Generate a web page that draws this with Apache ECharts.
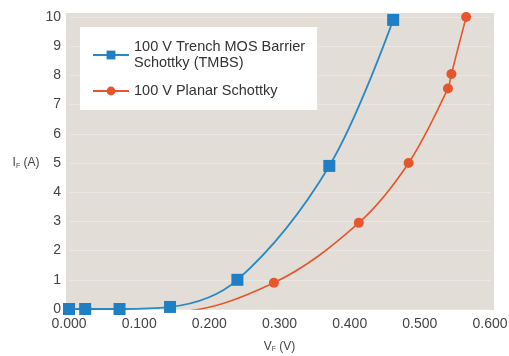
<!DOCTYPE html>
<html><head><meta charset="utf-8">
<script src="https://cdn.jsdelivr.net/npm/echarts@6/dist/echarts.min.js"></script>
<style>html,body{margin:0;padding:0;background:#fff}#c{width:509px;height:356px}</style>
</head><body><div id="c"></div>
<script>
var tmbsName = '100 V Trench MOS Barrier\nSchottky (TMBS)';
var planarName = '100 V Planar Schottky';
var tmbsV = [0.000, 0.023, 0.072, 0.144, 0.240, 0.371, 0.462];
var tmbsI = [0, 0, 0, 0.07, 1.0, 4.9, 9.9];
var planarV = [0.025, 0.084, 0.146, 0.292, 0.413, 0.484, 0.540, 0.545, 0.566];
var planarI = [0, -0.05, -0.1, 0.9, 2.95, 5.0, 7.55, 8.05, 10.0];

function pairs(xs, ys){ return xs.map(function(x,i){ return [x, ys[i]]; }); }

var chart = echarts.init(document.getElementById('c'));
chart.setOption({
  animation: false,
  textStyle: {fontFamily: 'Liberation Sans, Arial, sans-serif'},
  graphic: [{type: 'rect', left: 66, top: 13, shape: {width: 428, height: 297}, style: {fill: '#e2ded7'}, z: -10}],
  grid: {left: 69, right: 19, top: 17, bottom: 47, show: false, containLabel: false, outerBoundsMode: 'none'},
  legend: {
    orient: 'vertical', left: 80, top: 27, backgroundColor: '#ffffff',
    padding: [12, 12, 11, 12], itemGap: 12, itemWidth: 36, itemHeight: 11,
    textStyle: {fontSize: 14.5, color: '#333', lineHeight: 16},
    data: [tmbsName, planarName]
  },
  xAxis: {
    type: 'value', min: 0, max: 0.6, interval: 0.1,
    axisLine: {show: false}, axisTick: {show: false}, splitLine: {show: false},
    axisLabel: {margin: 8, fontSize: 14, color: '#444', formatter: function(v){ return v.toFixed(3); }},
    name: 'V{s|F} (V)', nameLocation: 'middle', nameGap: 31,
    nameTextStyle: {fontSize: 12, color: '#444', rich: {s: {fontSize: 7, verticalAlign: 'bottom', padding: [6,0,0,0], color:'#444'}}}
  },
  yAxis: {
    type: 'value', min: 0, max: 10, interval: 1,
    axisLine: {show: false}, axisTick: {show: false},
    splitLine: {show: true, lineStyle: {color: '#ebe8e3', width: 1}},
    axisLabel: {margin: 8, fontSize: 14, color: '#444'},
    name: 'I{s|F} (A)', nameLocation: 'middle', nameRotate: 0, nameGap: 28,
    nameTextStyle: {fontSize: 12, color: '#444', rich: {s: {fontSize: 7, verticalAlign: 'bottom', padding: [6,0,0,0], color:'#444'}}}
  },
  series: [
    {name: planarName, type: 'line', smooth: 0.35, data: pairs(planarV, planarI),
     symbol: 'circle', symbolSize: 10, lineStyle: {color: '#e5562c', width: 1.6},
     itemStyle: {color: '#e5562c'}, z: 2},
    {name: tmbsName, type: 'line', smooth: 0.35, data: pairs(tmbsV, tmbsI),
     symbol: 'rect', symbolSize: 12, lineStyle: {color: '#2a88c4', width: 1.8},
     itemStyle: {color: '#1f7fc4'}, z: 3}
  ]
});
</script></body></html>
